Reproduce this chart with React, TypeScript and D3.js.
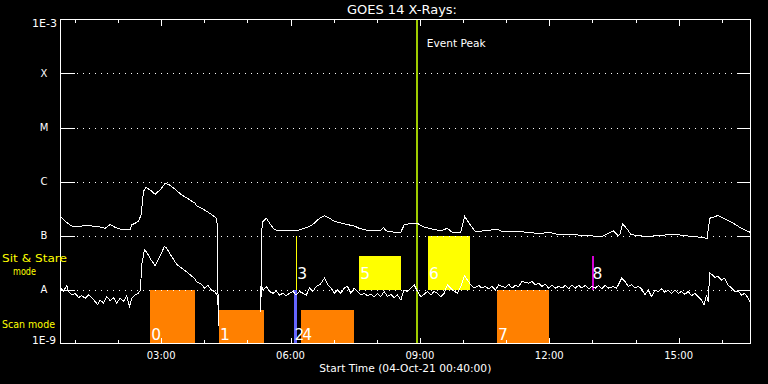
import React from 'react';
import * as d3 from 'd3';

// ---------- data ----------
const startTime = new Date(2021, 9, 4, 0, 40, 0);
const spanMinutes = 960;
const titleText = 'GOES 14 X-Rays:';
const xAxisTitle = 'Start Time (04-Oct-21 00:40:00)';
const eventPeakMinute = 495.7;

const levelValues = [1e-9, 1e-8, 1e-7, 1e-6, 1e-5, 1e-4, 1e-3];
const levelNames = ['1E-9', 'A', 'B', 'C', 'M', 'X', '1E-3'];

// [minutes after start, flux W/m^2]; null = data gap
const longChannel: [number, number | null][] = [
  [0, 2.25e-7], [6.5, 1.82e-7], [15.7, 1.5e-7], [25, 1.47e-7], [34.3, 1.53e-7], [43.5, 1.5e-7],
  [52.8, 1.47e-7], [62.1, 1.36e-7], [69.1, 1.6e-7], [76, 1.41e-7], [83, 1.31e-7], [96.9, 1.31e-7],
  [99.1, 1.57e-7], [108.4, 1.82e-7], [112.2, 2.41e-7], [115.4, 6.52e-7], [118.6, 7.74e-7], [124.7, 6.99e-7],
  [131.6, 5.81e-7], [138.6, 6.99e-7], [145.5, 9.17e-7], [150.1, 8.9e-7], [159.4, 7.2e-7], [168.6, 5.64e-7],
  [177.9, 4.76e-7], [187.2, 3.96e-7], [189, 3.59e-7], [198.3, 3.07e-7], [207.5, 2.59e-7], [216.8, 2.09e-7],
  [218.2, 1.57e-7], [219.6, 2.1e-9], [240, null], [278.7, 3.9e-9], [280.3, 1.36e-7], [281.7, 1.82e-7],
  [286.3, 2.09e-7], [290.9, 1.69e-7], [297.8, 1.27e-7], [309.5, 1.24e-7], [318.7, 1.22e-7], [328, 1.22e-7],
  [337.3, 1.33e-7], [346.5, 1.47e-7], [353.4, 1.69e-7], [360.4, 2.09e-7], [367.3, 2.31e-7], [374.3, 2.09e-7],
  [381.2, 1.82e-7], [394.7, 1.64e-7], [408.6, 1.5e-7], [415.6, 1.36e-7], [427.1, 1.24e-7], [436.4, 1.22e-7],
  [445.7, 1.24e-7], [449.3, 1.41e-7], [452.7, 1.22e-7], [464.2, 1.15e-7], [473.5, 1.15e-7], [478.1, 1.57e-7],
  [487.4, 1.69e-7], [496.6, 1.69e-7], [503.5, 1.47e-7], [515.2, 1.33e-7], [529.1, 1.22e-7], [538.3, 1.36e-7],
  [545.2, 1.14e-7], [556.9, 1.14e-7], [562.4, 2.25e-7], [568.4, 1.69e-7], [575.4, 1.27e-7], [577.2, 1.19e-7],
  [591.1, 1.22e-7], [607.4, 1.31e-7], [614.3, 1.19e-7], [632.8, 1.19e-7], [649, 1.15e-7], [665.3, 1.09e-7],
  [681.4, 1.14e-7], [693.1, 1.03e-7], [711.6, 1.06e-7], [725.5, 1.0e-7], [739.4, 9.8e-8], [753.3, 9.6e-8],
  [764.8, 1.14e-7], [769, 1.22e-7], [775.9, 1.0e-7], [778.3, 1.03e-7], [782, 1.62e-7], [787.6, 1.36e-7],
  [793.2, 1.06e-7], [801.5, 1.0e-7], [815.4, 9.6e-8], [833.9, 1.0e-7], [852.4, 1.06e-7], [866.3, 1.0e-7],
  [880.2, 9.6e-8], [891.8, 9.2e-8], [899.6, 8.9e-8], [903.4, 2.09e-7], [908, 2.18e-7], [914.9, 2.35e-7],
  [921.9, 2.09e-7], [935.8, 1.69e-7], [947.4, 1.36e-7], [960, 1.14e-7],
];

const shortChannel: [number, number | null][] = [
  [0, 1.06e-8], [4.2, 9.4e-9], [8.8, 1.19e-8], [11.1, 9.2e-9], [15.7, 7.9e-9], [20.4, 8.5e-9], [25, 7.1e-9],
  [29.6, 7.7e-9], [34.3, 6.9e-9], [38.9, 7.9e-9], [43.5, 7.1e-9], [48.2, 6.0e-9], [51.8, 5.2e-9], [55.2, 6.4e-9],
  [59.8, 5.6e-9], [64.3, 7.4e-9], [69.1, 6.2e-9], [73.7, 7.1e-9], [78.2, 5.6e-9], [83, 6.9e-9], [87.6, 6.0e-9],
  [92.1, 7.7e-9], [95.9, 4.8e-9], [99.1, 6.9e-9], [103.8, 7.9e-9], [108.4, 8.5e-9], [111.2, 9.8e-9], [113, 2.86e-8],
  [116.7, 5.41e-8], [119.9, 4.9e-8], [126.1, 3.53e-8], [131.6, 2.78e-8], [137.2, 3.8e-8], [144.5, 6.25e-8],
  [147.7, 5.81e-8], [154.7, 4.08e-8], [161.6, 2.94e-8], [168.6, 2.48e-8], [177.9, 2.0e-8], [187.2, 1.57e-8],
  [189, 1.41e-8], [196, 1.25e-8], [200.6, 1.06e-8], [205.3, 1.19e-8], [209.9, 9.8e-9], [214.4, 9.2e-9],
  [217.8, 7.9e-9], [219, 6.9e-9], [219.6, 2.1e-9], [240, null], [278.7, 3.9e-9], [279, 1.22e-8], [281.7, 9.8e-9],
  [286.3, 1.14e-8], [290.9, 9.2e-9], [295.6, 8.5e-9], [300.2, 9.4e-9], [304.8, 7.9e-9], [309.5, 8.5e-9],
  [314.1, 7.7e-9], [318.7, 8.5e-9], [323.4, 9.2e-9], [328, 7.9e-9], [332.6, 9.2e-9], [337.3, 8.5e-9],
  [341.9, 7.9e-9], [346.5, 1.06e-8], [351.2, 9.2e-9], [355.8, 1.14e-8], [361.3, 1.25e-8], [367.3, 1.62e-8],
  [372.1, 1.22e-8], [376.6, 1.06e-8], [381.2, 8.5e-9], [385.4, 9.8e-9], [390.1, 8.5e-9], [394.7, 1.06e-8],
  [399.3, 1.14e-8], [404, 8.5e-9], [408.6, 1.06e-8], [413.2, 9.2e-9], [417.9, 7.9e-9], [422.5, 8.5e-9],
  [427.1, 7.7e-9], [431.8, 8.1e-9], [436.4, 7.4e-9], [441, 8.5e-9], [445.7, 7.4e-9], [450.3, 9.2e-9],
  [454.9, 7.4e-9], [459.6, 8.1e-9], [464.2, 7.1e-9], [468.8, 7.9e-9], [473.5, 6.4e-9], [478.1, 9.8e-9],
  [482.7, 9.2e-9], [487.4, 1.06e-8], [492, 1.22e-8], [496.6, 9.2e-9], [501.3, 7.4e-9], [505.9, 8.1e-9],
  [510.5, 9.2e-9], [515.2, 7.9e-9], [519.8, 9.2e-9], [524.4, 8.5e-9], [529.1, 7.4e-9], [533.7, 8.5e-9],
  [538.3, 1.22e-8], [545.2, 9.8e-9], [552.2, 8.5e-9], [556.9, 1.14e-8], [562.4, 1.82e-8], [566.1, 1.5e-8],
  [570.8, 1.22e-8], [575.4, 1.06e-8], [581.9, 1.19e-8], [586.5, 1.06e-8], [591.1, 1.14e-8], [595.8, 1.03e-8],
  [600.4, 1.14e-8], [605, 9.8e-9], [609.7, 1.22e-8], [614.3, 1.14e-8], [618.9, 1.09e-8], [623.6, 1.25e-8],
  [628.2, 1.06e-8], [632.8, 1.19e-8], [637.5, 1.14e-8], [642.1, 1.41e-8], [646.7, 1.36e-8], [651.4, 1.31e-8],
  [656, 1.41e-8], [660.6, 1.22e-8], [665.3, 1.31e-8], [669.9, 1.14e-8], [674.5, 1.25e-8], [679.2, 1.06e-8],
  [683.8, 1.19e-8], [688.4, 1.06e-8], [693.1, 1.14e-8], [697.7, 1.06e-8], [702.3, 1.19e-8], [707, 1.03e-8],
  [711.6, 1.22e-8], [716.2, 1.06e-8], [720.9, 1.19e-8], [725.5, 1.06e-8], [730.1, 1.19e-8], [734.8, 1.03e-8],
  [739.4, 1.14e-8], [744, 1.06e-8], [748.7, 1.19e-8], [753.3, 1.03e-8], [757.9, 1.19e-8], [762.6, 1.06e-8],
  [769, 1.14e-8], [773.7, 1.06e-8], [777.3, 1.31e-8], [780.7, 1.62e-8], [785.3, 1.41e-8], [789.9, 1.14e-8],
  [794.6, 1.22e-8], [799.2, 1.06e-8], [803.8, 1.14e-8], [808.5, 1.03e-8], [813.1, 7.9e-9], [817.7, 9.8e-9],
  [822.4, 7.4e-9], [827, 9.8e-9], [831.5, 9.2e-9], [836.3, 1.03e-8], [840.9, 8.9e-9], [845.5, 9.8e-9],
  [850.2, 8.5e-9], [854.8, 9.8e-9], [859.3, 8.5e-9], [864.1, 9.2e-9], [868.6, 8.1e-9], [873.3, 9.2e-9],
  [877.9, 7.7e-9], [882.5, 8.5e-9], [887.1, 7.4e-9], [891.8, 6.4e-9], [895.5, 5.2e-9], [898.8, 7.9e-9],
  [901, 6.0e-9], [903.4, 2.0e-8], [907.1, 1.86e-8], [910.3, 1.67e-8], [914.9, 1.74e-8], [919.6, 1.5e-8],
  [924.2, 1.62e-8], [928.8, 1.22e-8], [933.5, 1.06e-8], [938.1, 9.2e-9], [942.7, 9.4e-9], [947.4, 7.9e-9],
  [952, 8.5e-9], [955.2, 7.4e-9], [960, 5.8e-9],
];

// observation windows: label, kind, start/end (minutes after start), top level (flux units)
const obsLabels = ['0', '1', '2', '3', '4', '5', '6', '7', '8'];
const obsKinds = ['scan', 'scan', 'scanB', 'sit', 'scan', 'sit', 'sit', 'scan', 'sitM'];
const obsStart = [124.7, 220.6, 324.2, 328.0, 335.0, 415.6, 511.4, 607.3, 738.9];
const obsEnd = [187.2, 283.5, 329.0, 329.4, 408.6, 473.9, 569.8, 679.6, 741.7];
const obsTop = [1e-8, 4.1e-9, 1e-8, 1e-7, 4.1e-9, 4.1e-8, 1e-7, 1e-8, 4.1e-8];

const kindColor: Record<string, string> = {
  scan: '#ff8000', scanB: '#6666ff', sit: '#ffff00', sitM: '#d400d4',
};

export default function App() {
  React.useEffect(() => {
    document.body.style.margin = '0';
    document.body.style.background = '#000';
  }, []);

  const W = 768, H = 384;
  const x0 = 60.5, x1 = 750.5, y0 = 19.5, y1 = 343.5;
  const toDate = (m: number) => new Date(startTime.getTime() + m * 60000);
  const xScale = d3.scaleTime().domain([startTime, toDate(spanMinutes)]).range([x0, x1]);
  const yScale = d3.scaleLog().domain([1e-9, 1e-3]).range([y1, y0]);
  const fmt = d3.timeFormat('%H:%M');

  const line = d3.line<[number, number | null]>()
    .defined(d => d[1] != null)
    .x(d => xScale(toDate(d[0])))
    .y(d => yScale(d[1] as number));

  const hourTicks = xScale.ticks(d3.timeHour.every(1) as any);
  const font = '"DejaVu Sans", sans-serif';
  const white = '#ffffff';

  const bars = obsLabels.map((lab, i) => {
    const kind = obsKinds[i];
    const isScan = kind.startsWith('scan');
    const base = isScan ? 1e-9 : 1e-8;
    const xs = xScale(toDate(obsStart[i]));
    const xe = xScale(toDate(obsEnd[i]));
    const yt = yScale(obsTop[i]);
    const yb = yScale(base);
    return { lab, kind, isScan, xs, xe, yt, yb };
  });

  const ex = xScale(toDate(eventPeakMinute));

  return (
    <svg width={W} height={H} style={{ position: 'absolute', left: 0, top: 0, background: '#000', display: 'block' }}>
      <rect x={0} y={0} width={W} height={H} fill="#000" />
      <defs>
        <clipPath id="plotclip">
          <rect x={x0} y={y0} width={x1 - x0} height={y1 - y0} />
        </clipPath>
      </defs>

      {/* bars */}
      <g shapeRendering="crispEdges">
        {bars.map((b, i) => (
          <rect key={i} x={b.xs} y={b.yt} width={Math.max(1, b.xe - b.xs)} height={b.yb - b.yt} fill={kindColor[b.kind]} />
        ))}
      </g>

      {/* gridlines */}
      <g>
        {levelValues.slice(1, -1).map((v, i) => {
          const y = Math.round(yScale(v)) + 0.5;
          return (
            <g key={i}>
              <line x1={77} x2={736} y1={y} y2={y} stroke={white} strokeWidth={1} strokeDasharray="1 5" shapeRendering="crispEdges" />
              <line x1={x0} x2={x0 + 14} y1={y} y2={y} stroke={white} shapeRendering="crispEdges" />
              <line x1={x1 - 14} x2={x1} y1={y} y2={y} stroke={white} shapeRendering="crispEdges" />
            </g>
          );
        })}
      </g>

      {/* event peak */}
      <rect x={ex - 1} y={y0} width={2} height={y1 - y0} fill="#9fcc00" shapeRendering="crispEdges" />
      <text x={ex + 10} y={46.5} fill={white} fontFamily={font} fontSize={11} textLength={59} lengthAdjust="spacingAndGlyphs">Event Peak</text>

      {/* curves */}
      <g clipPath="url(#plotclip)" fill="none" stroke={white} strokeWidth={1} shapeRendering="crispEdges">
        <path d={line(longChannel) || ''} />
        <path d={line(shortChannel) || ''} />
      </g>

      {/* bar labels */}
      {bars.map((b, i) => (
        <text key={i} x={b.xs + 1} y={b.isScan ? b.yb - 4 : yScale(1e-8) - 11} fill={white} fontFamily={font} fontSize={15.5}>{b.lab}</text>
      ))}

      {/* frame */}
      <rect x={x0} y={y0} width={x1 - x0} height={y1 - y0} fill="none" stroke={white} strokeWidth={1} shapeRendering="crispEdges" />

      {/* time ticks */}
      <g stroke={white} shapeRendering="crispEdges">
        {hourTicks.map((t, i) => {
          const x = Math.round(xScale(t)) + 0.5;
          const major = t.getHours() % 3 === 0;
          const len = major ? 6 : 3.5;
          return (
            <g key={i}>
              <line x1={x} x2={x} y1={y0} y2={y0 + len} />
              <line x1={x} x2={x} y1={y1} y2={y1 - len} />
            </g>
          );
        })}
      </g>
      {hourTicks.filter(t => t.getHours() % 3 === 0).map((t, i) => (
        <text key={i} x={xScale(t)} y={359} fill={white} fontFamily={font} fontSize={10} textAnchor="middle">{fmt(t)}</text>
      ))}

      {/* y labels */}
      {levelValues.map((v, i) => {
        const nm = levelNames[i];
        const y = yScale(v);
        if (i === 0) return <text key={i} x={56} y={y} fill={white} fontFamily={font} fontSize={10} textAnchor="end" textLength={24} lengthAdjust="spacingAndGlyphs">{nm}</text>;
        if (i === levelValues.length - 1) return <text key={i} x={57} y={y + 7.3} fill={white} fontFamily={font} fontSize={10} textAnchor="end" textLength={25} lengthAdjust="spacingAndGlyphs">{nm}</text>;
        return <text key={i} x={44} y={y + 3.7} fill={white} fontFamily={font} fontSize={10} textAnchor="middle">{nm}</text>;
      })}

      {/* titles */}
      <text x={402} y={14} fill={white} fontFamily={font} fontSize={12} textAnchor="middle" textLength={110} lengthAdjust="spacingAndGlyphs">{titleText}</text>
      <text x={405.3} y={371.5} fill={white} fontFamily={font} fontSize={10} textAnchor="middle" textLength={172} lengthAdjust="spacingAndGlyphs">{xAxisTitle}</text>

      {/* mode labels */}
      <text x={2} y={262.3} fill="#ffff00" fontFamily={font} fontSize={11} textLength={65} lengthAdjust="spacingAndGlyphs">Sit &amp; Stare</text>
      <text x={13} y={275} fill="#ffff00" fontFamily={font} fontSize={11} textLength={23} lengthAdjust="spacingAndGlyphs">mode</text>
      <text x={2} y={328} fill="#ffff00" fontFamily={font} fontSize={11} textLength={53} lengthAdjust="spacingAndGlyphs">Scan mode</text>
    </svg>
  );
}
